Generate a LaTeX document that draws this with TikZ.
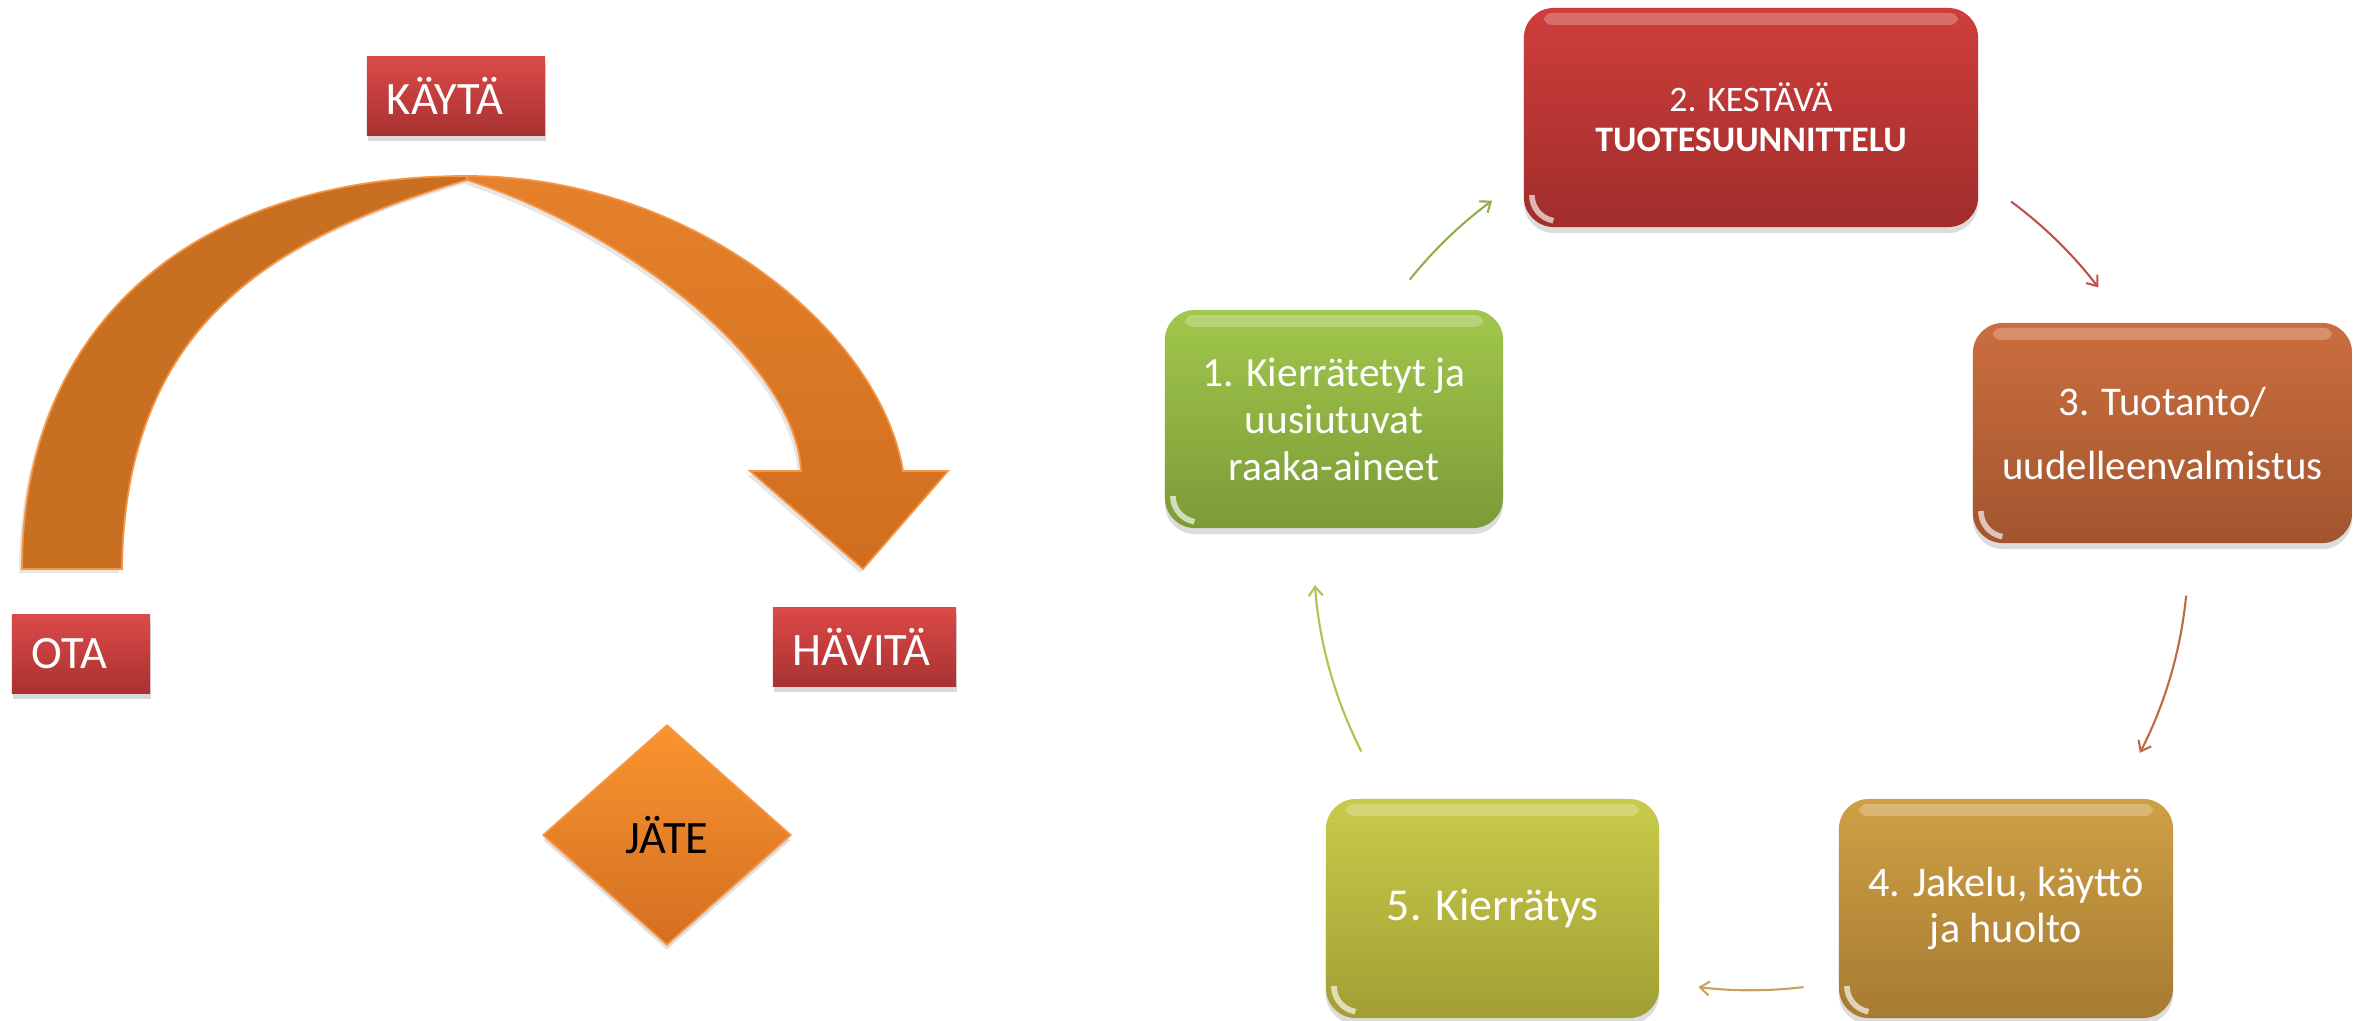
\documentclass[tikz,border=0pt]{standalone}
\usepackage{fontspec}
\setmainfont{Carlito}
\usetikzlibrary{shapes.geometric,shadows,arrows.meta,calc}
\definecolor{lblTop}{HTML}{DB4A48}
\definecolor{lblBot}{HTML}{A83231}
\definecolor{arcDark}{HTML}{C96F21}
\definecolor{arcTop}{HTML}{E5812A}
\definecolor{arcBot}{HTML}{D06E1F}
\definecolor{arcEdge}{HTML}{F79646}
\definecolor{dmTop}{HTML}{FA9430}
\definecolor{dmBot}{HTML}{D36F21}
\definecolor{gTop}{HTML}{A1C74B}
\definecolor{gBot}{HTML}{7B9B38}
\definecolor{rTop}{HTML}{CF3E3C}
\definecolor{rBot}{HTML}{A02D2B}
\definecolor{oTop}{HTML}{CB6E3E}
\definecolor{oBot}{HTML}{A2552F}
\definecolor{yTop}{HTML}{CFA044}
\definecolor{yBot}{HTML}{A67B33}
\definecolor{lTop}{HTML}{C8CB4A}
\definecolor{lBot}{HTML}{A19F34}
\definecolor{aGreen}{HTML}{8DB04E}
\definecolor{aRed}{HTML}{C0504D}
\definecolor{aOrange}{HTML}{BD6A42}
\definecolor{aTan}{HTML}{C9A262}
\definecolor{aLime}{HTML}{B9BF4E}
\begin{document}
\begin{tikzpicture}[x=0.01cm,y=-0.01cm,
  lbl/.style={top color=lblTop, bottom color=lblBot, text=white,
    font=\fontsize{13.2}{15}\selectfont, minimum height=0.78cm,
    inner xsep=0.2cm, inner ysep=0pt, align=left,
    drop shadow={shadow xshift=0.01cm, shadow yshift=-0.06cm, opacity=0.3}},
  glossy/.style={path picture={
     \fill[white,opacity=0.25,rounded corners=0.08cm]
       ([xshift=0.2cm,yshift=-0.05cm]path picture bounding box.north west) rectangle
       ([xshift=-0.2cm,yshift=-0.17cm]path picture bounding box.north east);
     \draw[white,opacity=0.65,line width=1.6pt]
       ([xshift=0.08cm,yshift=0.32cm]path picture bounding box.south west)
       arc[start angle=180,end angle=260,radius=0.26cm];
  }},
  cbox/.style={rounded corners=0.3cm, text=white, align=center, inner sep=0pt,
    drop shadow={shadow xshift=0cm, shadow yshift=-0.06cm, opacity=0.28}, glossy},
  cyc/.style={line width=0.6pt, -{Straight Barb[length=2.6pt,width=4pt]}},
  band/.style={draw=arcEdge, line width=0.5pt,
    drop shadow={shadow xshift=-0.03cm, shadow yshift=-0.04cm, opacity=0.2}},
]
\useasboundingbox (0,0) rectangle (2353,1021);

% linear economy arrow
\path[band, fill=arcDark]
  (22,569) .. controls (22,327) and (191,176) .. (467,176)
  -- (467,180) .. controls (280,235) and (125,320) .. (122,569) -- cycle;
\path[band, top color=arcTop, bottom color=arcBot]
  (467,176) .. controls (690,176) and (880,330) .. (903,471)
  -- (948,471) -- (863,569) -- (750,471) -- (801,471)
  .. controls (795,355) and (610,225) .. (467,180) -- cycle;

\node[lbl, text width=1.38cm] (kayta) at (456,96) {KÄYTÄ};
\node[lbl, text width=0.98cm] (ota) at (81,654) {OTA};
\node[lbl, text width=1.43cm] (havita) at (864.5,647) {HÄVITÄ};

\node[diamond, minimum width=2.48cm, minimum height=2.2cm, inner sep=0pt,
  top color=dmTop, bottom color=dmBot, draw=arcEdge, line width=0.5pt,
  font=\fontsize{13.2}{15}\selectfont,
  drop shadow={shadow xshift=0cm, shadow yshift=-0.05cm, opacity=0.25}] (jate) at (667,835) {JÄTE};

% circular economy
\node[cbox, top color=gTop, bottom color=gBot, minimum width=3.38cm, minimum height=2.18cm,
  font=\fontsize{11.8}{13.4}\selectfont] (b1) at (1334,419) {1. Kierrätetyt ja\\uusiutuvat\\raaka-aineet};
\node[cbox, top color=rTop, bottom color=rBot, minimum width=4.54cm, minimum height=2.19cm,
  font=\fontsize{10.2}{11.4}\selectfont] (b2) at (1751,117.5) {2. KESTÄVÄ\\\textbf{TUOTESUUNNITTELU}};
\node[cbox, top color=oTop, bottom color=oBot, minimum width=3.79cm, minimum height=2.2cm,
  font=\fontsize{11.6}{18.2}\selectfont] (b3) at (2162.5,433) {3. Tuotanto/\\uudelleenvalmistus};
\node[cbox, top color=yTop, bottom color=yBot, minimum width=3.34cm, minimum height=2.19cm,
  font=\fontsize{12}{13.1}\selectfont] (b4) at (2006,908.5) {4. Jakelu, käyttö\\ja huolto};
\node[cbox, top color=lTop, bottom color=lBot, minimum width=3.33cm, minimum height=2.19cm,
  font=\fontsize{13}{15}\selectfont] (b5) at (1492.5,908.5) {5. Kierrätys};

\coordinate (cc) at (1751,553);
\draw[cyc, aGreen]  ($(cc)+(141.3:4.37cm)$) arc[start angle=141.3, end angle=126.3, radius=4.37cm];
\draw[cyc, aRed]    ($(cc)+(53.5:4.37cm)$)  arc[start angle=53.5,  end angle=37.4,  radius=4.37cm];
\draw[cyc, aOrange] ($(cc)+(-5.6:4.37cm)$)  arc[start angle=-5.6,  end angle=-27.2, radius=4.37cm];
\draw[cyc, aTan]    ($(cc)+(-83.1:4.37cm)$) arc[start angle=-83.1, end angle=-96.9, radius=4.37cm];
\draw[cyc, aLime]   ($(cc)+(-153:4.37cm)$)  arc[start angle=-153,  end angle=-175.8, radius=4.37cm];
\end{tikzpicture}
\end{document}
